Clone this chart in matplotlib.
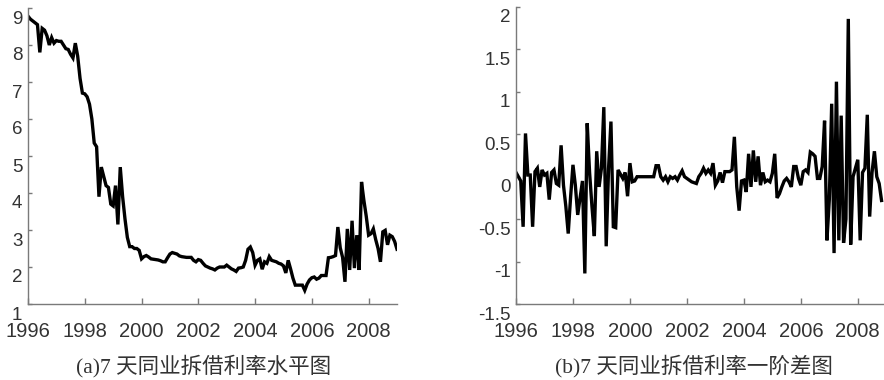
import numpy as np
import matplotlib
matplotlib.use('Agg')
from matplotlib import pyplot as plt
from matplotlib import transforms

############ data (monthly, Jan 1996 ->) ############
rate_level = [8.78, 8.70, 8.65, 8.60, 8.55, 7.80, 8.45, 8.40, 8.25, 8.00,
              8.20, 8.05, 8.12, 8.10, 8.10, 8.00, 7.90, 7.88, 7.75, 7.65,
              8.05, 7.70, 7.10, 6.70, 6.68, 6.60, 6.40, 6.00, 5.35, 5.25,
              3.90, 4.70, 4.45, 4.20, 4.15, 3.70, 3.65, 4.20, 3.15, 4.70,
              3.90, 3.30, 2.80, 2.55, 2.55, 2.50, 2.50, 2.45, 2.22, 2.28,
              2.31, 2.27, 2.22, 2.21, 2.20, 2.19, 2.17, 2.14, 2.14, 2.25,
              2.35, 2.39, 2.37, 2.35, 2.30, 2.28, 2.27, 2.26, 2.26, 2.26,
              2.18, 2.14, 2.20, 2.18, 2.10, 2.03, 2.00, 1.97, 1.95, 1.92,
              1.97, 2.00, 2.00, 2.00, 2.05, 2.00, 1.95, 1.92, 1.88, 1.97,
              1.98, 2.00, 2.18, 2.48, 2.54, 2.39, 2.05, 2.18, 2.22, 1.94,
              2.14, 2.10, 2.28, 2.18, 2.16, 2.14, 2.10, 2.08, 2.03, 1.84,
              2.18, 1.95, 1.70, 1.51, 1.51, 1.51, 1.51, 1.37, 1.54, 1.65,
              1.71, 1.73, 1.67, 1.70, 1.77, 1.77, 1.77, 2.25, 2.26, 2.28,
              2.31, 3.08, 2.52, 2.26, 1.60, 3.03, 1.92, 3.25, 1.97, 2.86,
              1.92, 4.30, 3.80, 3.37, 2.86, 2.90, 3.03, 2.74, 2.50, 2.14,
              2.95, 2.99, 2.60, 2.86, 2.82, 2.69, 2.48]

rate_diff = [0.05, 0.00, -0.05, -0.59, 0.51, 0.02, 0.02, -0.59, 0.06, 0.10,
             -0.12, 0.08, 0.02, 0.04, -0.27, 0.05, 0.08, -0.08, -0.10, 0.37,
             -0.10, -0.35, -0.67, -0.24, 0.14, -0.10, -0.45, -0.25, -0.05, -1.14,
             0.63, 0.05, -0.35, -0.70, 0.30, -0.12, 0.10, 0.82, -0.82, 0.10,
             0.65, -0.59, -0.60, 0.08, 0.03, -0.02, 0.05, -0.23, 0.16, -0.06,
             -0.05, 0.00, 0.00, 0.00, 0.00, 0.00, 0.00, 0.00, 0.00, 0.13,
             0.13, 0.00, -0.04, 0.00, -0.06, 0.00, -0.02, 0.00, -0.04, 0.02,
             0.07, 0.00, -0.02, -0.04, -0.06, -0.07, -0.08, 0.00, 0.04, 0.10,
             0.04, 0.08, 0.04, 0.16, -0.10, -0.05, 0.05, -0.07, 0.06, 0.06,
             0.06, 0.08, 0.47, -0.12, -0.40, -0.05, -0.04, -0.18, 0.27, -0.12,
             0.31, -0.06, 0.24, -0.10, 0.05, -0.06, -0.04, -0.06, 0.04, 0.27,
             -0.25, -0.20, -0.12, -0.05, -0.02, -0.06, -0.12, 0.12, 0.12, -0.02,
             -0.10, 0.06, 0.08, 0.05, 0.29, 0.27, 0.24, -0.02, -0.02, 0.12,
             0.66, -0.75, -0.27, 0.86, -0.90, 1.12, -0.75, 0.72, -0.78, -0.50,
             1.86, -0.80, 0.00, 0.10, 0.20, -0.75, 0.05, 0.10, 0.73, -0.47,
             0.05, 0.30, 0.00, -0.08, -0.28]

year_ticks = [1996, 1998, 2000, 2002, 2004, 2006, 2008]
level_ticks = [1, 2, 3, 4, 5, 6, 7, 8, 9]
diff_ticks = [-1.5, -1, -0.5, 0, 0.5, 1, 1.5, 2]
diff_ticklabels = ['-1.5', '-1', '-0.5', '0', '0.5', '1', '1.5', '2']
caption_a = '(a)7 天同业拆借利率水平图'
caption_b = '(b)7 天同业拆借利率一阶差图'

t_level = 1996 + np.arange(len(rate_level)) / 12.
t_diff = 1996 + np.arange(len(rate_diff)) / 12.

plt.rcParams['font.family'] = ['Liberation Sans', 'DejaVu Sans']
plt.rcParams['axes.unicode_minus'] = False

W, H = 884., 380.
fig = plt.figure(figsize=(W / 100, H / 100), dpi=100)
fig.patch.set_facecolor('white')
ax1 = fig.add_axes([28 / W, 76 / H, 369 / W, 296 / H])
ax2 = fig.add_axes([516 / W, 76 / H, 368 / W, 297 / H])

ax1.plot(t_level, rate_level, color='black', linewidth=2.4, solid_joinstyle='miter')
ax2.plot(t_diff, rate_diff, color='black', linewidth=2.4, solid_joinstyle='miter')

ax1.set_xlim(1996, t_level[-1])
ax1.set_ylim(1, 9)
ax1.set_yticks(level_ticks)
ax2.set_xlim(1996, 2008.92)
ax2.set_ylim(-1.5, 2)
ax2.set_yticks(diff_ticks)
ax2.set_yticklabels(diff_ticklabels)

# MATLAB-like look: box off, ticks inside, grey axes
shift = transforms.ScaledTranslation(0, -9 / 100., fig.dpi_scale_trans)
for ax in (ax1, ax2):
    ax.set_xticks(year_ticks)
    for s in ('top', 'right'):
        ax.spines[s].set_visible(False)
    for s in ('left', 'bottom'):
        ax.spines[s].set_color('#7a7a7a')
        ax.spines[s].set_linewidth(1.0)
    ax.tick_params(axis='both', direction='in', color='#7a7a7a', labelcolor='#333333')
    ax.tick_params(axis='x', length=4, width=1, pad=13, labelsize=14.5)
    ax.tick_params(axis='y', length=3, width=1, pad=4, labelsize=13.5)
    for lab in ax.get_yticklabels():
        lab.set_transform(lab.get_transform() + shift)

fig.text(204 / W, 1 - 366 / H, caption_a, ha='center', va='center', fontsize=15.5,
         color='#333333', family=['Liberation Serif', 'Noto Sans CJK SC'])
fig.text(694 / W, 1 - 366 / H, caption_b, ha='center', va='center', fontsize=15.5,
         color='#333333', family=['Liberation Serif', 'Noto Sans CJK SC'])

plt.savefig('out.png', dpi=100, facecolor='white')
